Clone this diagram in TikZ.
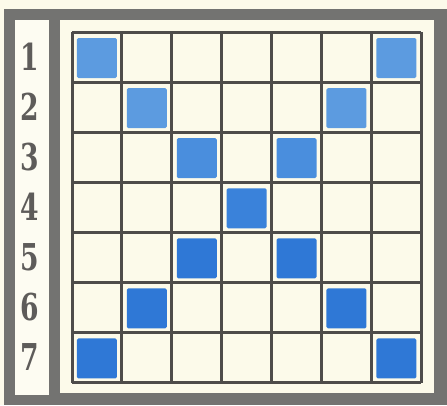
\documentclass[tikz,border=0pt]{standalone}
\usepackage{fontspec}
\newfontfamily\numfont{DejaVu Serif}
\usetikzlibrary{calc}
\definecolor{paper}{HTML}{FCFAEA}
\definecolor{strip}{HTML}{FDFCF2}
\definecolor{frame}{HTML}{737371}
\definecolor{gridc}{HTML}{4E4C4A}
\definecolor{numc}{HTML}{5E5C5A}
\definecolor{blueA}{HTML}{5C9BE0}
\definecolor{blueB}{HTML}{4A8EDD}
\definecolor{blueC}{HTML}{3A82DA}
\definecolor{blueD}{HTML}{2F78D6}
\newcommand{\rownum}[1]{\scalebox{0.72}[1]{\numfont\bfseries\fontsize{37}{37}\selectfont #1}}
\tikzset{
  num/.style={text=numc, inner sep=0pt},
  cellbox/.style={minimum width=40pt, minimum height=40pt, inner sep=0pt, draw=none, rounded corners=1.5pt},
  gridline/.style={draw=gridc, line width=3pt}
}
\begin{document}
\begin{tikzpicture}[x=1pt,y=-1pt]
\useasboundingbox (0,0) rectangle (447,405);
\fill[paper] (0,0) rectangle (447,405);
\fill[frame] (4,9) rectangle (447,405);
\fill[paper] (15,20) rectangle (434,393);
\fill[strip] (15,20) rectangle (49,395);
\fill[frame] (49,20) rectangle (60,393);
% grid
\foreach \i in {0,...,7} {
  \draw[gridline] ({72+\i*49.9},32) -- ({72+\i*49.9},382.5);
  \draw[gridline] (72,{32+\i*50.07}) -- (421.3,{32+\i*50.07});
}
% numbers
\foreach \r in {1,...,7} {
  \node[num] (n\r) at (30,{57+(\r-1)*50.07}) {\rownum{\r}};
}
% blue squares
\foreach \r/\c/\col in {1/1/blueA,1/7/blueA,2/2/blueA,2/6/blueA,3/3/blueB,3/5/blueB,4/4/blueC,5/3/blueD,5/5/blueD,6/2/blueD,6/6/blueD,7/1/blueD,7/7/blueD} {
  \node[cellbox, fill=\col] (b\r\c) at ({72+(\c-0.5)*49.9},{32+(\r-0.5)*50.07+1}) {};
}
\end{tikzpicture}
\end{document}
